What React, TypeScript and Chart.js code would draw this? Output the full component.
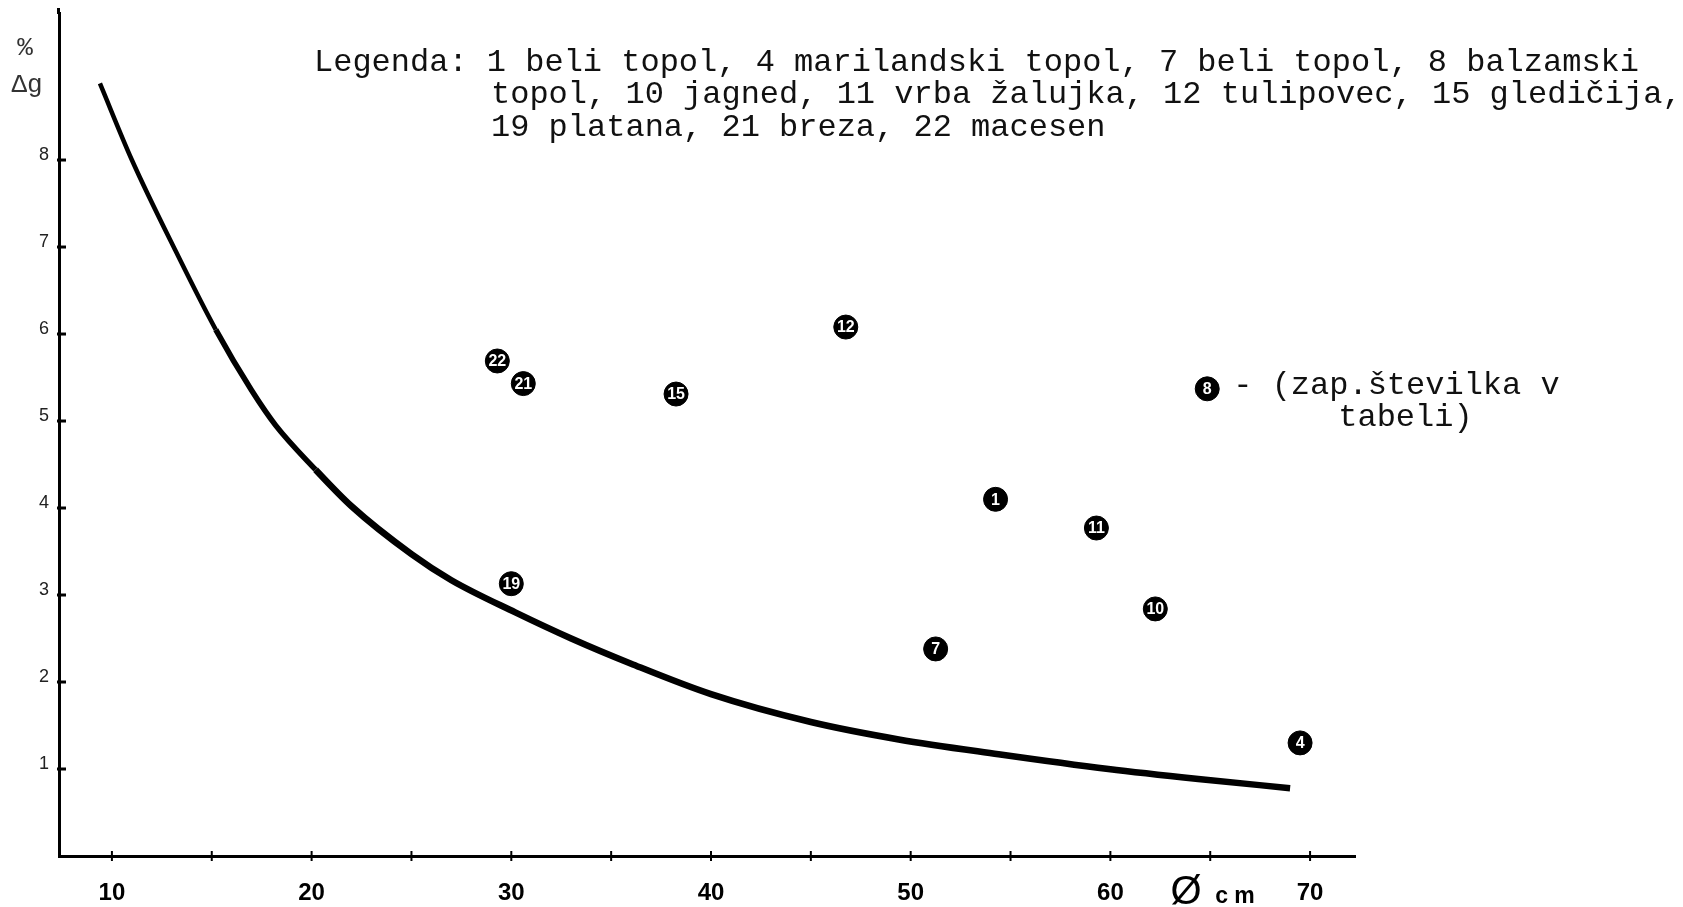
import React, { useEffect, useRef } from "react";
import { Chart, registerables } from "chart.js";

Chart.register(...registerables);

// Fitted curve
const curveX = [9.4, 11, 13.2, 15.2, 17, 18.2, 20.2, 22, 25, 27, 30.2, 33, 36, 40, 45, 49.4, 54.4, 59.9, 64.4, 69.0];
const curveY = [8.88, 8.0, 6.95, 6.05, 5.35, 4.95, 4.44, 4.02, 3.47, 3.17, 2.8, 2.5, 2.21, 1.86, 1.54, 1.34, 1.17, 1.0, 0.885, 0.78];

// Numbered tree points
const pointLabels = ["1", "4", "7", "8", "10", "11", "12", "15", "19", "21", "22"];
const pointX = [54.25, 69.5, 51.25, 64.85, 62.25, 59.3, 46.75, 38.25, 30.0, 30.6, 29.3];
const pointY = [4.1, 1.3, 2.38, 5.37, 2.84, 3.77, 6.08, 5.31, 3.13, 5.43, 5.69];

const xTickLabels = [10, 20, 30, 40, 50, 60, 70];
const yTickLabels = [1, 2, 3, 4, 5, 6, 7, 8];

const legendLines = [
  "Legenda: 1 beli topol, 4 marilandski topol, 7 beli topol, 8 balzamski",
  "topol, 10 jagned, 11 vrba žalujka, 12 tulipovec, 15 gledičija,",
  "19 platana, 21 breza, 22 macesen",
];
const noteLines = ["- (zap.številka v", "tabeli)"];

export default function App() {
  const ref = useRef<HTMLCanvasElement | null>(null);

  useEffect(() => {
    const canvas = ref.current;
    if (!canvas) return;

    const decor = {
      id: "decor",
      afterDraw(chart: any) {
        const ctx = chart.ctx;
        const xs = chart.scales.x;
        const ys = chart.scales.y;
        const area = chart.chartArea;
        ctx.save();
        ctx.strokeStyle = "#000";
        // small extension of the y axis above the plot top
        ctx.lineWidth = 3;
        ctx.beginPath();
        ctx.moveTo(area.left - 0.5, area.top + 1);
        ctx.lineTo(area.left - 0.5, area.top - 5);
        ctx.stroke();

        ctx.lineWidth = 2;
        xs.ticks.forEach((t: any) => {
          const px = xs.getPixelForValue(t.value);
          ctx.beginPath();
          ctx.moveTo(px, area.bottom - 5);
          ctx.lineTo(px, area.bottom + 5);
          ctx.stroke();
        });
        ys.ticks.forEach((t: any) => {
          if (!yTickLabels.includes(t.value)) return;
          const py = ys.getPixelForValue(t.value);
          ctx.beginPath();
          ctx.lineWidth = 3;
          ctx.moveTo(area.left - 2, py);
          ctx.lineTo(area.left + 7, py);
          ctx.stroke();
        });

        // point numbers
        const meta = chart.getDatasetMeta(1);
        ctx.fillStyle = "#fff";
        ctx.font = "bold 16px 'Liberation Sans Narrow', 'Liberation Sans', sans-serif";
        ctx.textAlign = "center";
        ctx.textBaseline = "middle";
        meta.data.forEach((el: any, i: number) => {
          ctx.fillText(pointLabels[i], el.x, el.y + 1);
        });

        // legend text
        ctx.fillStyle = "#111";
        ctx.font = "32px 'Liberation Mono', monospace";
        ctx.textAlign = "left";
        ctx.textBaseline = "middle";
        ctx.fillText(legendLines[0], 314, 63);
        ctx.fillText(legendLines[1], 491, 95);
        ctx.fillText(legendLines[2], 491, 128);

        // note next to marker 8
        const p8 = meta.data[pointLabels.indexOf("8")];
        ctx.fillText(noteLines[0], p8.x + 26, p8.y - 3);
        ctx.fillText(noteLines[1], p8.x + 131, p8.y + 29);

        // y axis title
        ctx.font = "26px 'Liberation Mono', monospace";
        ctx.textAlign = "center";
        ctx.fillStyle = "#333";
        ctx.fillText("%", 25, 48);
        ctx.fillText("Δg", 27, 85);

        // x axis unit
        ctx.fillStyle = "#000";
        ctx.font = "40px 'Liberation Sans', sans-serif";
        ctx.fillText("Ø", 1186, 893);
        ctx.font = "bold 23px 'Liberation Sans', sans-serif";
        ctx.fillText("c m", 1235, 897);
        ctx.restore();
      },
    };

    const chart = new Chart(canvas, {
      type: "scatter",
      data: {
        datasets: [
          {
            type: "line",
            data: curveX.map((x, i) => ({ x, y: curveY[i] })),
            borderColor: "#000",
            borderWidth: 6.5,
            borderCapStyle: "butt",
            borderJoinStyle: "round",
            pointRadius: 0,
            fill: false,
            cubicInterpolationMode: "monotone",
            segment: {
              borderWidth: (c: any) => (c.p0.parsed.x < 14 ? 4.5 : c.p0.parsed.x < 20 ? 5.5 : 6.5),
            },
          } as any,
          {
            data: pointX.map((x, i) => ({ x, y: pointY[i] })),
            backgroundColor: "#000",
            borderColor: "#000",
            pointRadius: 12,
            pointHoverRadius: 12,
          },
        ],
      },
      options: {
        animation: false,
        responsive: false,
        devicePixelRatio: 1,
        events: [],
        layout: { padding: { left: 0, top: 3, right: 328, bottom: 0 } },
        plugins: { legend: { display: false }, tooltip: { enabled: false } },
        scales: {
          x: {
            type: "linear",
            min: 7.35,
            max: 72.25,
            afterFit: (s: any) => {
              s.height = 51;
              s.paddingLeft = 0;
              s.paddingRight = 0;
            },
            border: { display: true, color: "#000", width: 3 },
            grid: { display: true, drawOnChartArea: false, drawTicks: false },
            ticks: {
              stepSize: 5,
              includeBounds: false,
              autoSkip: false,
              maxRotation: 0,
              padding: 23,
              color: "#000",
              font: { family: "'Liberation Sans', sans-serif", size: 24, weight: "bold" },
              callback: (v: any) => (xTickLabels.includes(v) ? String(v) : ""),
            },
          },
          y: {
            type: "linear",
            min: 0,
            max: 9.69,
            afterFit: (s: any) => {
              s.width = 59;
              s.paddingTop = 0;
              s.paddingBottom = 0;
            },
            border: { display: true, color: "#000", width: 3 },
            grid: { display: true, drawOnChartArea: false, drawTicks: false },
            ticks: {
              stepSize: 1,
              includeBounds: false,
              autoSkip: false,
              padding: 10,
              labelOffset: -5,
              color: "#222",
              font: { family: "'Liberation Sans', sans-serif", size: 18 },
              callback: (v: any) => (yTickLabels.includes(v) ? String(v) : ""),
            },
          },
        },
      } as any,
      plugins: [decor],
    });

    return () => chart.destroy();
  }, []);

  return (
    <div style={{ position: "fixed", left: 0, top: 0, width: 1683, height: 907, background: "#fff" }}>
      <canvas ref={ref} width={1683} height={907} style={{ width: 1683, height: 907, display: "block" }} />
    </div>
  );
}
